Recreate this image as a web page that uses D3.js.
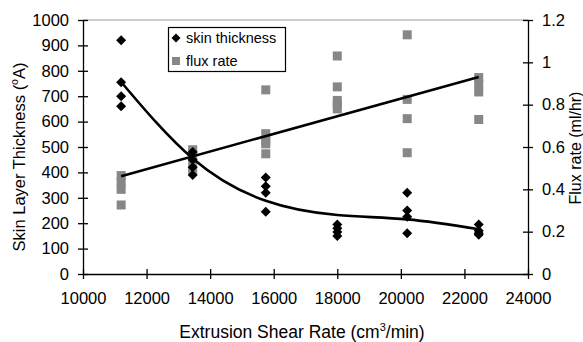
<!DOCTYPE html>
<html>
<head>
<meta charset="utf-8">
<script src="https://cdn.jsdelivr.net/npm/d3@7"></script>
<style>
	body { margin: 0; background: #fff; }
	svg { font-family: 'Liberation Sans', Arial, sans-serif; }
</style>
</head>
<body>
<div id="chart"></div>
<script>
// shear rate groups (cm3/min)
const shearRates = [11200, 13450, 15750, 18000, 20200, 22450]
// skin layer thickness readings per group (A)
const thickness = [
	[920, 755, 700, 660],
	[480, 450, 420, 390],
	[380, 345, 320, 245],
	[195, 180, 165, 150],
	[320, 250, 225, 160],
	[195, 170, 160, 155],
]
// flux rate readings per group (ml/hr)
const flux = [
	[0.465, 0.433, 0.40, 0.326],
	[0.587, 0.568, 0.528, 0.489],
	[0.87, 0.663, 0.63, 0.615, 0.568],
	[1.03, 0.884, 0.82, 0.80, 0.78],
	[1.13, 0.825, 0.734, 0.573],
	[0.928, 0.895, 0.86, 0.73],
]
// thickness trend curve as read at each shear rate (A)
const skinTrend = [756, 455, 288, 232, 215, 176]
const xTicks = [10000, 12000, 14000, 16000, 18000, 20000, 22000, 24000]
const leftTicks = [0, 100, 200, 300, 400, 500, 600, 700, 800, 900, 1000]
const rightTicks = [0, 0.2, 0.4, 0.6, 0.8, 1, 1.2]

const W = 583, H = 342
const m = { left: 83, right: 528, top: 20, bottom: 274 }

const svg = d3.select('#chart').append('svg').attr('width', W).attr('height', H)

const x = d3.scaleLinear().domain([10000, 24000]).range([m.left, m.right])
const yL = d3.scaleLinear().domain([0, 1000]).range([m.bottom, m.top])
const yR = d3.scaleLinear().domain([0, 1.2]).range([m.bottom, m.top])

// flatten to points
const skinPts = shearRates.flatMap((s, i) => thickness[i].map((v) => ({ x: s, y: v })))
const fluxPts = shearRates.flatMap((s, i) => flux[i].map((v) => ({ x: s, y: v })))
const trendPts = shearRates.map((s, i) => ({ x: s, y: skinTrend[i] }))

// least squares line for the flux trend
const fx = d3.mean(fluxPts, (d) => d.x), fy = d3.mean(fluxPts, (d) => d.y)
const slope = d3.sum(fluxPts, (d) => (d.x - fx) * (d.y - fy)) / d3.sum(fluxPts, (d) => (d.x - fx) ** 2)
const fluxFit = (xv) => fy + slope * (xv - fx)
const xEnds = d3.extent(shearRates)

// top frame line
svg.append('line')
	.attr('x1', m.left).attr('x2', m.right)
	.attr('y1', m.top).attr('y2', m.top)
	.attr('stroke', '#9a9a9a').attr('stroke-width', 1)

// flux squares
svg.append('g').selectAll('rect')
	.data(fluxPts)
	.enter()
	.append('rect')
	.attr('x', (d) => x(d.x) - 4.5)
	.attr('y', (d) => yR(d.y) - 4.5)
	.attr('width', 9).attr('height', 9)
	.attr('fill', '#878787')

// skin diamonds
const diamond = (cx, cy, r) => `M${cx},${cy - r}L${cx + r},${cy}L${cx},${cy + r}L${cx - r},${cy}Z`
svg.append('g').selectAll('path')
	.data(skinPts)
	.enter()
	.append('path')
	.attr('d', (d) => diamond(x(d.x), yL(d.y), 5))
	.attr('fill', '#000')

// trend lines
svg.append('path')
	.attr('d', d3.line().curve(d3.curveNatural).x((d) => x(d.x)).y((d) => yL(d.y))(trendPts))
	.attr('fill', 'none').attr('stroke', '#000').attr('stroke-width', 2.6)
svg.append('path')
	.attr('d', d3.line().x((d) => x(d)).y((d) => yR(fluxFit(d)))(xEnds))
	.attr('fill', 'none').attr('stroke', '#000').attr('stroke-width', 2.6)

// axes with crossing ticks
const gx = svg.append('g')
	.attr('transform', `translate(0,${m.bottom})`)
	.call(d3.axisBottom(x).tickValues(xTicks).tickFormat(d3.format('d')).tickSizeInner(5).tickSizeOuter(0).tickPadding(13))
gx.selectAll('.tick line').attr('y1', -5)

const gl = svg.append('g')
	.attr('transform', `translate(${m.left},0)`)
	.call(d3.axisLeft(yL).tickValues(leftTicks).tickFormat(d3.format('d')).tickSizeInner(5).tickSizeOuter(0).tickPadding(9))
gl.selectAll('.tick line').attr('x1', 5)

const gr = svg.append('g')
	.attr('transform', `translate(${m.right},0)`)
	.call(d3.axisRight(yR).tickValues(rightTicks).tickFormat((d) => String(+d.toFixed(1))).tickSizeInner(5).tickSizeOuter(0).tickPadding(9))
gr.selectAll('.tick line').attr('x1', -5)

svg.selectAll('.domain').attr('stroke', '#000').attr('stroke-width', 1.3)
svg.selectAll('.tick line').attr('stroke', '#000').attr('stroke-width', 1.3)
svg.selectAll('.tick text').attr('font-size', 16.5).attr('font-family', null).attr('fill', '#000')

// axis titles
const xt = svg.append('text')
	.attr('x', 302).attr('y', 338)
	.attr('text-anchor', 'middle').attr('font-size', 17.5)
xt.append('tspan').text('Extrusion Shear Rate (cm')
xt.append('tspan').attr('font-size', 11).attr('dy', -7).text('3')
xt.append('tspan').attr('dy', 7).text('/min)')

const yt = svg.append('text')
	.attr('transform', 'translate(25,157) rotate(-90)')
	.attr('text-anchor', 'middle').attr('font-size', 16.5)
yt.append('tspan').text('Skin Layer Thickness (')
yt.append('tspan').attr('font-size', 10.5).attr('dy', -7).text('o')
yt.append('tspan').attr('dy', 7).text('A)')

svg.append('text')
	.attr('transform', 'translate(581,148) rotate(-90)')
	.attr('text-anchor', 'middle').attr('font-size', 16)
	.text('Flux rate (ml/hr)')

// legend
const lg = svg.append('g')
lg.append('rect')
	.attr('x', 168.5).attr('y', 27.5).attr('width', 117).attr('height', 44)
	.attr('fill', '#fff').attr('stroke', '#000').attr('stroke-width', 1.2)
lg.append('path').attr('d', diamond(176, 38, 4.5)).attr('fill', '#000')
lg.append('rect').attr('x', 172).attr('y', 57).attr('width', 8).attr('height', 8).attr('fill', '#878787')
lg.append('text').attr('x', 186).attr('y', 43).attr('font-size', 14.5).text('skin thickness')
lg.append('text').attr('x', 186).attr('y', 66).attr('font-size', 14.5).text('flux rate')
</script>
</body>
</html>
